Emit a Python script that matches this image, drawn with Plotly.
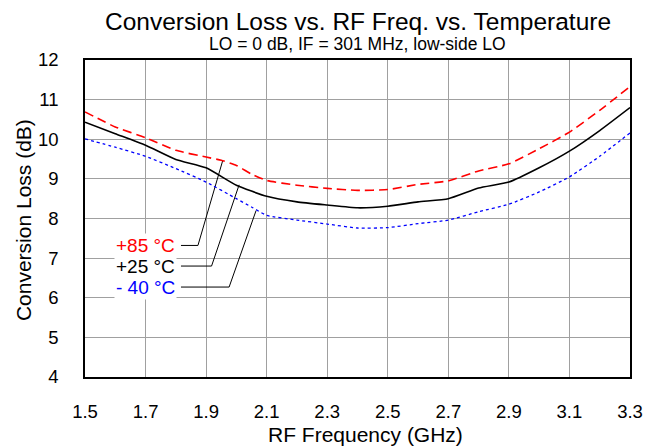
import plotly.graph_objects as go

# ---- data ----
freq_85 = [1.5, 1.6, 1.7, 1.8, 1.9, 1.95, 2.0, 2.05, 2.1, 2.2, 2.3, 2.4, 2.5, 2.6, 2.7, 2.8, 2.9, 3.0, 3.1, 3.2, 3.3]
loss_85 = [10.69, 10.31, 10.04, 9.72, 9.55, 9.47, 9.34, 9.12, 8.96, 8.84, 8.76, 8.71, 8.73, 8.86, 8.95, 9.20, 9.38, 9.76, 10.18, 10.73, 11.33]

freq_25 = [1.5, 1.6, 1.7, 1.8, 1.9, 2.0, 2.1, 2.2, 2.3, 2.4, 2.5, 2.6, 2.7, 2.8, 2.9, 3.0, 3.1, 3.2, 3.3]
loss_25 = [10.43, 10.14, 9.85, 9.49, 9.28, 8.84, 8.56, 8.42, 8.34, 8.27, 8.31, 8.42, 8.50, 8.77, 8.92, 9.28, 9.70, 10.22, 10.80]

freq_m40 = [1.5, 1.6, 1.7, 1.8, 1.9, 2.0, 2.05, 2.1, 2.2, 2.3, 2.4, 2.5, 2.6, 2.7, 2.8, 2.9, 3.0, 3.1, 3.2, 3.3]
loss_m40 = [10.01, 9.80, 9.57, 9.26, 8.92, 8.50, 8.29, 8.08, 7.96, 7.86, 7.76, 7.77, 7.87, 7.96, 8.17, 8.36, 8.67, 9.05, 9.57, 10.16]

x_ticks = [1.5, 1.7, 1.9, 2.1, 2.3, 2.5, 2.7, 2.9, 3.1, 3.3]
x_tick_labels = ["1.5", "1.7", "1.9", "2.1", "2.3", "2.5", "2.7", "2.9", "3.1", "3.3"]
y_ticks = [4, 5, 6, 7, 8, 9, 10, 11, 12]

# label callouts: text, colour, leader line (x list, y list)
labels = ["+85 °C", "+25 °C", "- 40 °C"]
label_colors = ["#ff0000", "#000000", "#0000ff"]
leader_x = [[1.817, 1.873, 1.955], [1.817, 1.918, 2.009], [1.817, 1.976, 2.065]]
leader_y = [[7.32, 7.32, 9.465], [6.80, 6.80, 8.85], [6.27, 6.27, 8.20]]

FONT = "Arial, Liberation Sans, sans-serif"

fig = go.Figure()

for lx, ly in zip(leader_x, leader_y):
    fig.add_trace(go.Scatter(x=lx, y=ly, mode="lines",
                             line=dict(color="black", width=1),
                             showlegend=False, hoverinfo="skip"))

fig.add_trace(go.Scatter(x=freq_m40, y=loss_m40, mode="lines", name="-40 °C",
                         line=dict(color="#0000ff", width=1.3, dash="dot", shape="spline", smoothing=0.5)))
fig.add_trace(go.Scatter(x=freq_25, y=loss_25, mode="lines", name="+25 °C",
                         line=dict(color="#000000", width=1.6, shape="spline", smoothing=0.5)))
fig.add_trace(go.Scatter(x=freq_85, y=loss_85, mode="lines", name="+85 °C",
                         line=dict(color="#ff0000", width=1.6, dash="9px,5px", shape="spline", smoothing=0.5)))

annotations = []
for text, col, ly in zip(labels, label_colors, leader_y):
    annotations.append(dict(x=1.804, y=ly[0], xref="x", yref="y", text=text,
                            showarrow=False, xanchor="right", yanchor="middle",
                            font=dict(family=FONT, size=19, color=col),
                            bgcolor="white", borderpad=1))

annotations += [
    dict(x=0.5, y=1.0, xref="paper", yref="paper", yshift=39, text="Conversion Loss vs. RF Freq. vs. Temperature",
         showarrow=False, xanchor="center", yanchor="middle", font=dict(family=FONT, size=24.5, color="black")),
    dict(x=0.5, y=1.0, xref="paper", yref="paper", yshift=16, text="LO = 0 dB, IF = 301 MHz, low-side LO",
         showarrow=False, xanchor="center", yanchor="middle", font=dict(family=FONT, size=17.5, color="black")),
    dict(x=0.515, y=0, xref="paper", yref="paper", yshift=-57, text="RF Frequency (GHz)",
         showarrow=False, xanchor="center", yanchor="middle", font=dict(family=FONT, size=21, color="black")),
    dict(x=0, y=0.495, xref="paper", yref="paper", xshift=-62, text="Conversion Loss (dB)", textangle=-90,
         showarrow=False, xanchor="center", yanchor="middle", font=dict(family=FONT, size=21, color="black")),
]

fig.update_layout(
    width=646, height=447,
    autosize=False,
    margin=dict(l=85, r=16, t=60, b=70, autoexpand=False),
    paper_bgcolor="white", plot_bgcolor="white",
    showlegend=False,
    font=dict(family=FONT, size=18.5, color="black"),
    annotations=annotations,
    xaxis=dict(range=[1.5, 3.3], tickvals=x_ticks, ticktext=x_tick_labels,
               showgrid=True, gridcolor="#a0a0a0", gridwidth=1,
               showline=True, linecolor="black", linewidth=1.5, mirror=True,
               ticks="", ticklabelstandoff=17, zeroline=False, automargin=False,
               tickfont=dict(family=FONT, size=18.5, color="black")),
    yaxis=dict(range=[4, 12], tickvals=y_ticks,
               showgrid=True, gridcolor="#a0a0a0", gridwidth=1,
               showline=True, linecolor="black", linewidth=1.5, mirror=True,
               ticks="", ticklabelstandoff=21, zeroline=False, automargin=False,
               tickfont=dict(family=FONT, size=18.5, color="black")),
)

fig.write_html("out.html", config={"displayModeBar": False},
               post_script="document.body.style.margin='0';")
